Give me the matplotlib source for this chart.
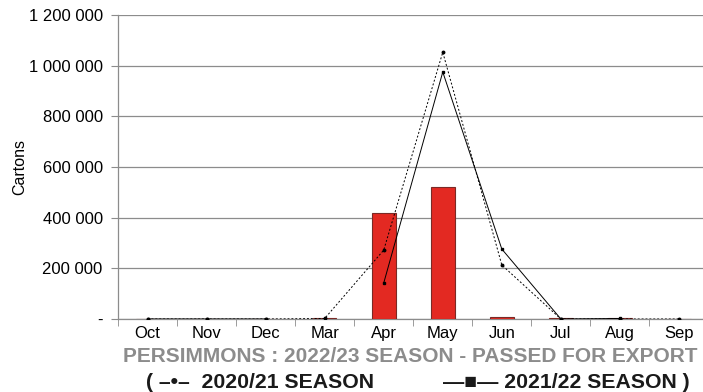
import numpy as np
import matplotlib
matplotlib.use("Agg")
import matplotlib.pyplot as plt
from matplotlib.ticker import FuncFormatter, FixedLocator

plt.rcParams['font.family'] = ['Liberation Sans', 'DejaVu Sans']

months = ["Oct", "Nov", "Dec", "Mar", "Apr", "May", "Jun", "Jul", "Aug", "Sep"]
season_2223 = [0, 0, 0, 3000, 420000, 520000, 8000, 3000, 3000, 0]
season_2021 = [0, 0, 0, 2000, 272000, 1053000, 213000, 0, 0, 0]
season_2122 = [0, 0, 0, np.nan, 142000, 975000, 276000, 0, 2000, np.nan]

x = np.arange(len(months))

fig = plt.figure(figsize=(7.03, 3.92), dpi=100)
ax = fig.add_axes([118 / 703, 1 - 319 / 392, 590.5 / 703, 304 / 392])

ax.bar(x, season_2223, width=0.4, color="#e32922", edgecolor="#7a2a26", linewidth=0.8, zorder=3)
ax.plot(x, season_2021, color="black", linestyle=(0, (2, 2)), linewidth=0.7,
        marker="o", markersize=1.8, zorder=4)
ax.plot(x, season_2122, color="black", linestyle="-", linewidth=0.7,
        marker="s", markersize=1.8, zorder=4)

ax.set_xlim(-0.5, 9.5)
ax.set_ylim(0, 1200000)
ax.set_yticks(np.arange(0, 1200001, 200000))


def fmt(v, pos):
    if v == 0:
        return "-"
    return f"{int(v):,}".replace(",", " ")


ax.yaxis.set_major_formatter(FuncFormatter(fmt))
ax.grid(axis="y", color="#8c8c8c", linewidth=0.9, zorder=0)
ax.set_xticks(x)
ax.set_xticklabels(months)
ax.xaxis.set_minor_locator(FixedLocator(np.arange(-0.5, 10, 1)))
ax.tick_params(axis="x", which="major", length=0, labelsize=12, pad=5)
ax.tick_params(axis="x", which="minor", length=5, color="#8c8c8c")
ax.tick_params(axis="y", length=5, color="#8c8c8c", labelsize=12, pad=6)
for s in ["top", "right"]:
    ax.spines[s].set_visible(False)
for s in ["left", "bottom"]:
    ax.spines[s].set_color("#8c8c8c")
    ax.spines[s].set_linewidth(0.9)
ax.set_ylabel("Cartons", fontsize=11.5, labelpad=1)

fig.text(410 / 703, 1 - 356 / 392, "PERSIMMONS : 2022/23 SEASON - PASSED FOR EXPORT",
         ha="center", va="center", fontsize=15, fontweight="bold", color="#8c8c8c")
fig.text(146 / 703, 1 - 382 / 392, "( \u2013\u2022\u2013  2020/21 SEASON",
         ha="left", va="center", fontsize=15.3, fontweight="bold", color="#1a1a1a")
fig.text(443 / 703, 1 - 382 / 392, "\u2014\u25a0\u2014 2021/22 SEASON )",
         ha="left", va="center", fontsize=15.3, fontweight="bold", color="#1a1a1a")

fig.savefig("out.png", dpi=100)
